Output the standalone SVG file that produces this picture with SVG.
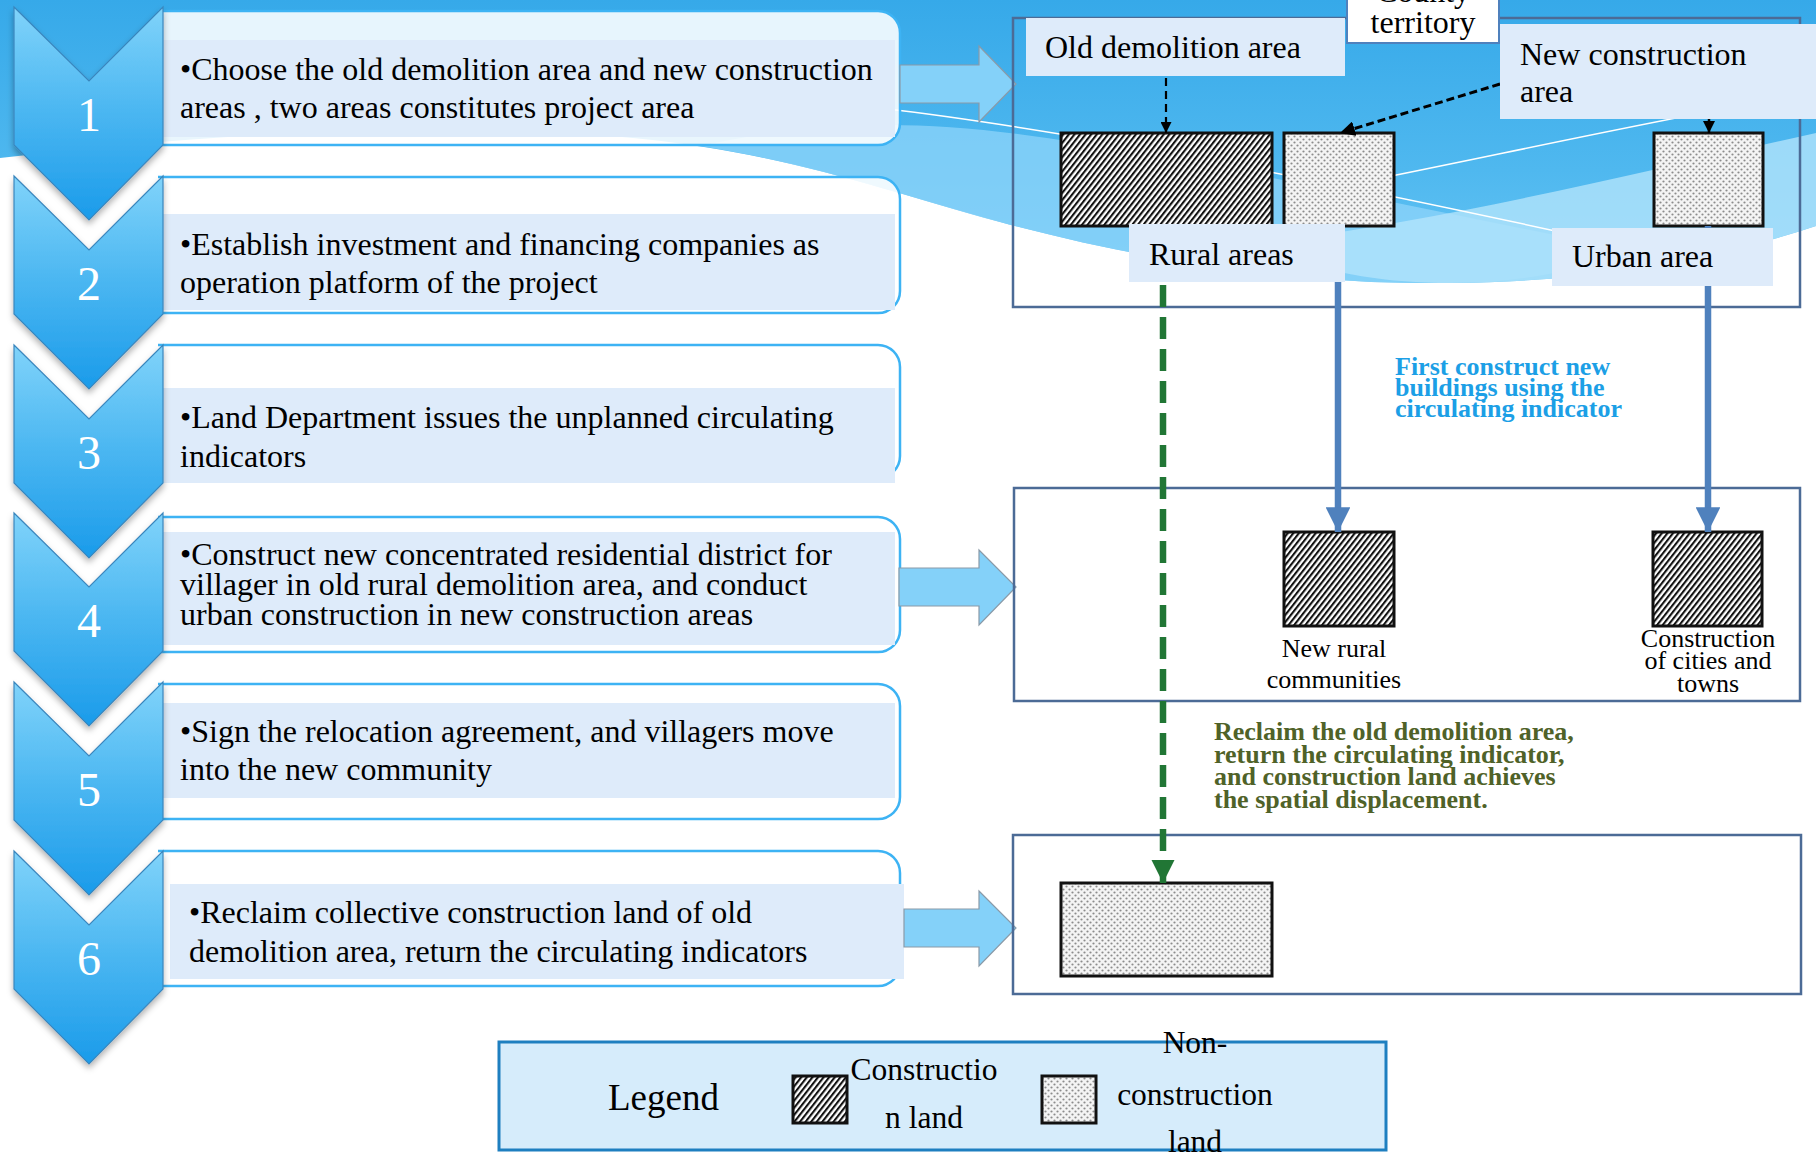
<svg xmlns="http://www.w3.org/2000/svg" width="1816" height="1153" viewBox="0 0 1816 1153">
<style>
.chev{stroke:#3a86bd;stroke-width:1.2;fill:url(#gChev);filter:url(#shadow)}
.num{font-family:"Liberation Serif","Times New Roman",serif;font-size:48px;fill:#ffffff;text-anchor:middle}
.box{fill:#ffffff;fill-opacity:0.88;stroke:#3db3f4;stroke-width:2.5}
.inner{fill:#deebfa}
.t{font-family:"Liberation Serif","Times New Roman",serif;font-size:32px;fill:#000000}
.t26{font-family:"Liberation Serif","Times New Roman",serif;font-size:26px;fill:#000000}
.barrow{fill:#84d1f9;stroke:#8a9aa8;stroke-width:1.2}
.panel{fill:none;stroke:#4c6b96;stroke-width:2.5}
.lbl{fill:#deebfa}
.hatch{fill:url(#hatch);stroke:#111111;stroke-width:3}
.dots{fill:url(#dots);stroke:#111111;stroke-width:3}
.blueT{font-family:"Liberation Serif","Times New Roman",serif;font-size:26px;font-weight:bold;fill:#1c9fe6}
.greenT{font-family:"Liberation Serif","Times New Roman",serif;font-size:26px;font-weight:bold;fill:#4f6228}
.lg{font-family:"Liberation Serif","Times New Roman",serif;font-size:31.5px;fill:#000000;text-anchor:middle}
</style>
<defs>
<linearGradient id="gChev" x1="0" y1="0" x2="0" y2="1">
<stop offset="0" stop-color="#80d3fa"/>
<stop offset="0.5" stop-color="#4ab6f1"/>
<stop offset="1" stop-color="#1a9bea"/>
</linearGradient>
<linearGradient id="gBg" x1="0" y1="0" x2="0" y2="1">
<stop offset="0" stop-color="#36a9e9"/>
<stop offset="0.6" stop-color="#4fb8ef"/>
<stop offset="1" stop-color="#66c5f4"/>
</linearGradient>
<filter id="shadow" x="-20%" y="-20%" width="140%" height="140%">
<feDropShadow dx="0" dy="4" stdDeviation="3" flood-color="#000000" flood-opacity="0.3"/>
</filter>
<pattern id="hatch" width="4.4" height="10" patternUnits="userSpaceOnUse" patternTransform="rotate(38)">
<rect width="4.4" height="10" fill="#ffffff"/>
<rect width="2.1" height="10" fill="#111111"/>
</pattern>
<pattern id="dots" width="6" height="6" patternUnits="userSpaceOnUse">
<rect width="6" height="6" fill="#f4f4f4"/>
<circle cx="1.5" cy="1.5" r="1.1" fill="#8c8c8c"/>
<circle cx="4.5" cy="4.5" r="1.1" fill="#8c8c8c"/>
</pattern>
<marker id="mBlack" viewBox="0 0 10 10" refX="10" refY="5" markerWidth="5" markerHeight="5" markerUnits="strokeWidth" orient="auto">
<path d="M0,0 L10,5 L0,10 Z" fill="#000000"/>
</marker>
<marker id="mBlue" viewBox="0 0 10 10" refX="10" refY="5" markerWidth="3.8" markerHeight="3.8" markerUnits="strokeWidth" orient="auto">
<path d="M0,0 L10,5 L0,10 Z" fill="#4f81bd"/>
</marker>
<marker id="mGreen" viewBox="0 0 10 10" refX="10" refY="5" markerWidth="3.6" markerHeight="3.6" markerUnits="strokeWidth" orient="auto">
<path d="M0,0 L10,5 L0,10 Z" fill="#217635"/>
</marker>
</defs>

<g id="background">
<rect width="1816" height="1153" fill="#ffffff"/>
<path d="M0,0 H1816 V226 C1720,258 1600,282 1450,283 C1300,285 1150,262 1000,222 C900,195 820,165 704,147 C520,118 250,128 0,158 Z" fill="url(#gBg)"/>
<path d="M700,146 C820,120 920,118 1060,140 C1250,170 1450,215 1640,252 C1560,276 1500,283 1450,283 C1300,285 1150,262 1000,222 C900,195 820,165 700,146 Z" fill="#8ed4f9" fill-opacity="0.75"/>
<path d="M1816,133 C1650,170 1450,220 1250,245 C1320,272 1380,283 1450,283 C1600,282 1720,258 1816,226 Z" fill="#b2e3fb" fill-opacity="0.8"/>
<path d="M880,108 C1050,128 1300,175 1560,232" fill="none" stroke="#ffffff" stroke-width="1.5"/>
<path d="M1290,196 C1450,166 1650,120 1816,92" fill="none" stroke="#ffffff" stroke-width="1.5"/>
</g>

<g id="step1">
<path class="box" d="M158,11 H878 A22,22 0 0 1 900,33 V123 A22,22 0 0 1 878,145 H158"/>
<rect class="inner" x="161" y="40" width="734" height="97"/>
<text class="t" x="180" y="80">•Choose the old demolition area and new construction</text>
<text class="t" x="180" y="118">areas , two areas constitutes project area</text>
</g>
<g id="step2">
<path class="box" d="M158,177 H878 A22,22 0 0 1 900,199 V291 A22,22 0 0 1 878,313 H158"/>
<rect class="inner" x="161" y="214" width="734" height="96"/>
<text class="t" x="180" y="255">•Establish investment and financing companies as</text>
<text class="t" x="180" y="293">operation platform of the project</text>
</g>
<g id="step3">
<path class="box" d="M158,345 H878 A22,22 0 0 1 900,367 V456 A22,22 0 0 1 878,478 H158"/>
<rect class="inner" x="161" y="388" width="734" height="95"/>
<text class="t" x="180" y="428">•Land Department issues the unplanned circulating</text>
<text class="t" x="180" y="467">indicators</text>
</g>
<g id="step4">
<path class="box" d="M158,517 H878 A22,22 0 0 1 900,539 V630 A22,22 0 0 1 878,652 H158"/>
<rect class="inner" x="161" y="532" width="734" height="113"/>
<text class="t" x="180" y="565">•Construct new concentrated residential district for</text>
<text class="t" x="180" y="595">villager in old rural demolition area, and conduct</text>
<text class="t" x="180" y="625">urban construction in new construction areas</text>
</g>
<g id="step5">
<path class="box" d="M158,684 H878 A22,22 0 0 1 900,706 V797 A22,22 0 0 1 878,819 H158"/>
<rect class="inner" x="161" y="703" width="734" height="95"/>
<text class="t" x="180" y="742">•Sign the relocation agreement, and villagers move</text>
<text class="t" x="180" y="780">into the new community</text>
</g>
<g id="step6">
<path class="box" d="M158,851 H878 A22,22 0 0 1 900,873 V964 A22,22 0 0 1 878,986 H158"/>
<rect class="inner" x="170" y="884" width="734" height="95"/>
<text class="t" x="189" y="923">•Reclaim collective construction land of old</text>
<text class="t" x="189" y="962">demolition area, return the circulating indicators</text>
</g>

<g id="chevrons">
<g id="chev1"><path class="chev" d="M14,7 L89,81 L163,7 L163,145 L89,220 L14,145 Z"/><text class="num" x="89" y="131">1</text></g>
<g id="chev2"><path class="chev" d="M14,176 L89,250 L163,176 L163,314 L89,389 L14,314 Z"/><text class="num" x="89" y="300">2</text></g>
<g id="chev3"><path class="chev" d="M14,345 L89,419 L163,345 L163,483 L89,558 L14,483 Z"/><text class="num" x="89" y="469">3</text></g>
<g id="chev4"><path class="chev" d="M14,513 L89,587 L163,513 L163,651 L89,726 L14,651 Z"/><text class="num" x="89" y="637">4</text></g>
<g id="chev5"><path class="chev" d="M14,682 L89,756 L163,682 L163,820 L89,895 L14,820 Z"/><text class="num" x="89" y="806">5</text></g>
<g id="chev6"><path class="chev" d="M14,851 L89,925 L163,851 L163,989 L89,1064 L14,989 Z"/><text class="num" x="89" y="975">6</text></g>
</g>

<g id="blockArrows">
<polygon class="barrow" points="900,65 979,65 979,46 1016,84 979,122 979,103 900,103"/>
<polygon class="barrow" points="899,568 979,568 979,550 1016,587 979,625 979,606 899,606"/>
<polygon class="barrow" points="904,909 979,909 979,891 1016,928 979,966 979,947 904,947"/>
</g>

<g id="panelTop">
<rect class="panel" x="1013" y="18" width="787" height="289"/>
</g>
<g id="panelMid">
<rect class="panel" x="1014" y="488" width="786" height="213" fill="#ffffff"/>
</g>
<g id="panelBottom">
<rect class="panel" x="1013" y="835" width="788" height="159" fill="#ffffff"/>
</g>

<g id="oldHatch"><rect class="hatch" x="1061" y="133" width="211" height="93"/></g>
<g id="newDots1"><rect class="dots" x="1284" y="133" width="110" height="93"/></g>
<g id="newDots2"><rect class="dots" x="1654" y="133" width="109" height="93"/></g>
<g id="ruralNew"><rect class="hatch" x="1284" y="532" width="110" height="94"/>
<text class="t26" x="1334" y="657" text-anchor="middle">New rural</text>
<text class="t26" x="1334" y="688" text-anchor="middle">communities</text></g>
<g id="cityNew"><rect class="hatch" x="1653" y="532" width="109" height="94"/>
<text class="t26" x="1708" y="647" text-anchor="middle">Construction</text>
<text class="t26" x="1708" y="669" text-anchor="middle">of cities and</text>
<text class="t26" x="1708" y="692" text-anchor="middle">towns</text></g>
<g id="reclaimed"><rect class="dots" x="1061" y="883" width="211" height="93"/></g>

<g id="connectors">
<line x1="1166" y1="78" x2="1166" y2="133" stroke="#000000" stroke-width="2.2" stroke-dasharray="8,5" marker-end="url(#mBlack)"/>
<line x1="1500" y1="84" x2="1340" y2="133" stroke="#000000" stroke-width="3" stroke-dasharray="8,4" marker-end="url(#mBlack)"/>
<line x1="1709" y1="110" x2="1709" y2="133" stroke="#000000" stroke-width="2.5" marker-end="url(#mBlack)"/>
<line x1="1338" y1="226" x2="1338" y2="532" stroke="#4f81bd" stroke-width="6.5" marker-end="url(#mBlue)"/>
<line x1="1708" y1="226" x2="1708" y2="532" stroke="#4f81bd" stroke-width="6.5" marker-end="url(#mBlue)"/>
<line x1="1163" y1="285" x2="1163" y2="883" stroke="#217635" stroke-width="6.5" stroke-dasharray="22,10" marker-end="url(#mGreen)"/>
</g>

<g id="labels">
<g id="lblOld"><rect class="lbl" x="1026" y="18" width="319" height="58"/><text class="t" x="1045" y="58">Old demolition area</text></g>
<g id="lblCounty"><rect x="1347" y="-4" width="152" height="47" fill="#ffffff" stroke="#4f81bd" stroke-width="2"/>
<text class="t" x="1423" y="2" text-anchor="middle">County</text>
<text class="t" x="1423" y="33" text-anchor="middle">territory</text></g>
<g id="lblNew"><rect class="lbl" x="1500" y="24" width="320" height="95"/><text class="t" x="1520" y="65">New construction</text><text class="t" x="1520" y="102">area</text></g>
<g id="lblRural"><rect class="lbl" x="1129" y="224" width="216" height="58"/><text class="t" x="1149" y="265">Rural areas</text></g>
<g id="lblUrban"><rect class="lbl" x="1552" y="228" width="221" height="58"/><text class="t" x="1572" y="267">Urban area</text></g>
<g id="noteBlue">
<text class="blueT" x="1395" y="375">First construct new</text>
<text class="blueT" x="1395" y="396">buildings using the</text>
<text class="blueT" x="1395" y="417">circulating indicator</text>
</g>
<g id="noteGreen">
<text class="greenT" x="1214" y="740">Reclaim the old demolition area,</text>
<text class="greenT" x="1214" y="763">return the circulating indicator,</text>
<text class="greenT" x="1214" y="785">and construction land achieves</text>
<text class="greenT" x="1214" y="808">the spatial displacement.</text>
</g>
</g>

<g id="legend">
<rect x="499" y="1042" width="887" height="108" fill="#d6ecfb" stroke="#1e7fc0" stroke-width="3"/>
<text x="608" y="1110" font-family="Liberation Serif, Times New Roman, serif" font-size="37">Legend</text>
<rect class="hatch" x="793" y="1076" width="54" height="47"/>
<text class="lg" x="924" y="1080">Constructio</text>
<text class="lg" x="924" y="1128">n land</text>
<rect class="dots" x="1042" y="1076" width="54" height="47"/>
<text class="lg" x="1195" y="1053">Non-</text>
<text class="lg" x="1195" y="1105">construction</text>
<text class="lg" x="1195" y="1152">land</text>
</g>
</svg>
